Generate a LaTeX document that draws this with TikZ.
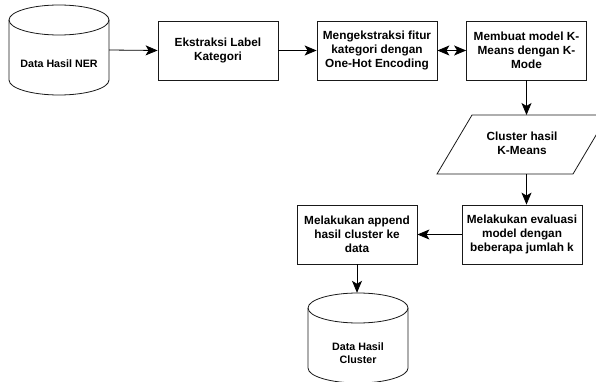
\documentclass[tikz,border=0pt]{standalone}
\usepackage{fontspec}
\setmainfont{Liberation Sans}
\usetikzlibrary{arrows.meta}
\tikzset{
  tipA/.tip={Stealth[length=12pt,width=10pt,inset=3pt]},
  boxnode/.style={draw=black!90, line width=0.8pt, minimum width=120pt, minimum height=59pt, align=center, inner sep=2pt, font=\fontsize{11.8}{14}\selectfont\bfseries},
  dbtext/.style={align=center, inner sep=0pt, font=\fontsize{10.7}{12.5}\selectfont\bfseries},
  frame/.style={draw=none, inner sep=0pt, minimum width=100pt, minimum height=90pt},
  conn/.style={draw=black, line width=0.8pt, -tipA},
  dconn/.style={draw=black, line width=0.8pt, tipA-tipA},
  shapeline/.style={draw=black!90, line width=0.8pt}
}
\newcommand{\drawcyl}[2]{% #1 = left x, #2 = top y (page coords, y down)
  \draw[shapeline] (#1,#2+15) -- (#1,#2+75)
    arc[start angle=180, end angle=360, x radius=50pt, y radius=15pt]
    -- (#1+100,#2+15)
    arc[start angle=0, end angle=180, x radius=50pt, y radius=15pt] -- cycle;
  \draw[shapeline] (#1,#2+15) arc[start angle=180, end angle=360, x radius=50pt, y radius=15pt];
}
\begin{document}
\begin{tikzpicture}[x=1pt, y=-1pt]
  \useasboundingbox (0,0) rectangle (596,382);

  % database 1
  \node[frame] (db1) at (59,50) {};
  \drawcyl{9}{5}
  \node[dbtext] (db1t) at (59,64) {Data Hasil NER};

  % boxes
  \node[boxnode] (b1) at (218,50.5) {Ekstraksi Label\\Kategori};
  \node[boxnode] (b2) at (377,50.5) {Mengekstraksi fitur\\kategori dengan\\One-Hot Encoding};
  \node[boxnode] (b3) at (526.5,50.5) {Membuat model K-\\Means dengan K-\\Mode};

  % parallelogram
  \coordinate (ptl) at (472,115);
  \coordinate (ptr) at (608,115);
  \coordinate (pbr) at (573,174);
  \coordinate (pbl) at (437,174);
  \draw[shapeline] (ptl) -- (ptr) -- (pbr) -- (pbl) -- cycle;
  \node[align=center, inner sep=0pt, font=\fontsize{11.8}{14}\selectfont\bfseries] (para) at (522,143) {Cluster hasil\\K-Means};

  \node[boxnode] (ev) at (522,234.5) {Melakukan evaluasi\\model dengan\\beberapa jumlah k};
  \node[boxnode] (ap) at (357,234.5) {Melakukan append\\hasil cluster ke\\data};

  % database 2
  \node[frame] (db2) at (358,338) {};
  \drawcyl{308}{293}
  \node[dbtext] (db2t) at (358,353) {Data Hasil\\Cluster};

  % connectors
  \draw[conn] (db1.east) -- (b1.west);
  \draw[conn] (b1.east) -- (b2.west);
  \draw[dconn] (b2.east) -- (b3.west);
  \draw[conn] (b3.south) -- (b3.south |- ptl);
  \draw[conn] (b3.south |- pbl) -- (b3.south |- ev.north);
  \draw[conn] (ev.west) -- (ap.east);
  \draw[conn] (ap.south) -- (db2.north -| ap.south);
\end{tikzpicture}
\end{document}
